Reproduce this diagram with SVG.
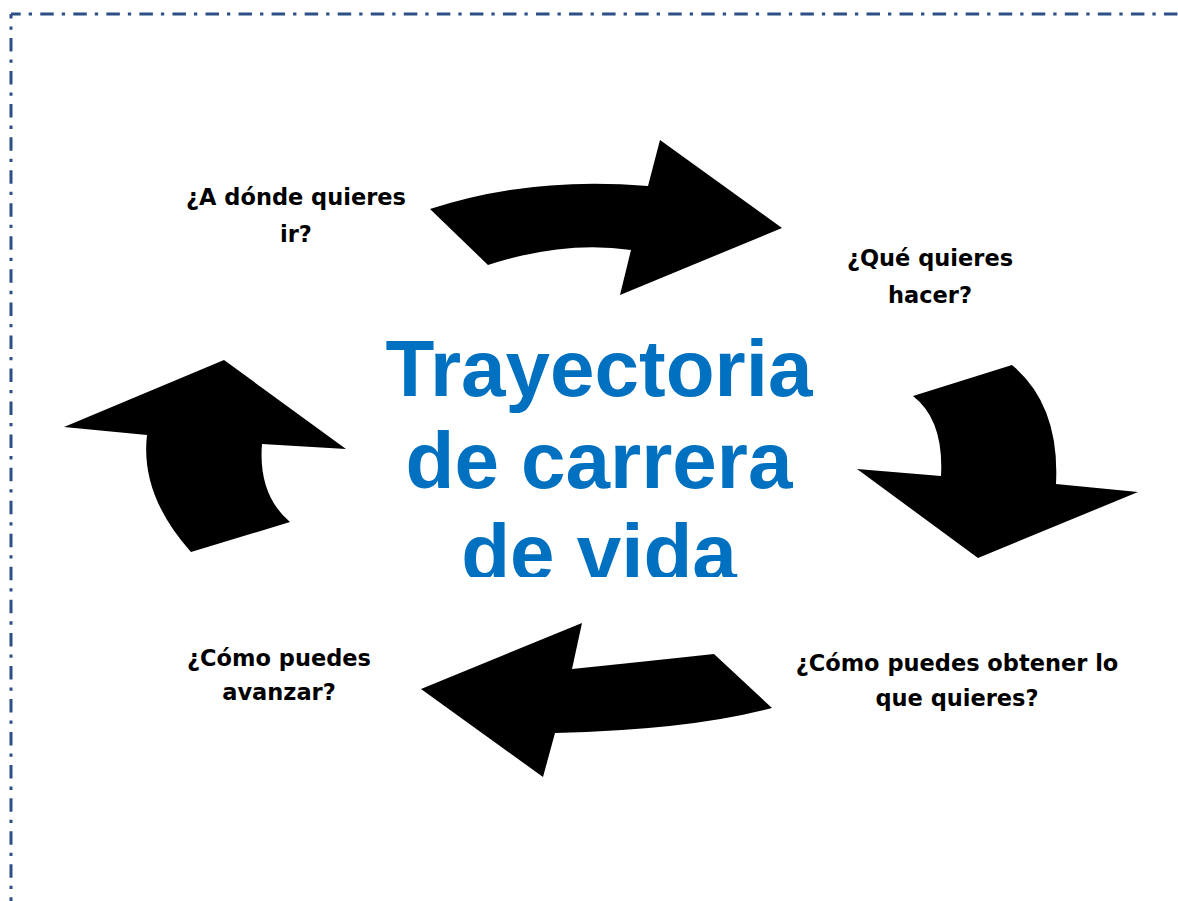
<svg xmlns="http://www.w3.org/2000/svg" width="1178" height="901" viewBox="0 0 1178 901">
  <defs>
    <style>
      .border { stroke: #2c4f86; stroke-width: 3; fill: none; stroke-dasharray: 13.5 8 3.3 8.25; }
      .arrow { fill: #000000; stroke: none; }
      .label { font-family: "Comic Sans MS", "DejaVu Sans", sans-serif; font-weight: bold; font-size: 22.5px; fill: #000000; text-anchor: middle; }
      .title { font-family: "Liberation Sans", Arial, sans-serif; font-weight: bold; font-size: 80px; fill: #0070c0; text-anchor: middle; }
    </style>
    <clipPath id="titleClip">
      <rect x="0" y="300" width="1178" height="277"/>
    </clipPath>
  </defs>
  <rect width="1178" height="901" fill="#ffffff"/>
  <g id="border">
    <line class="border" x1="11" y1="14" x2="1178" y2="14" stroke-dashoffset="3.8"/>
    <line class="border" x1="11" y1="14" x2="11" y2="901" stroke-dashoffset="9.05"/>
  </g>
  <g id="connectors">
    <path id="arrow-top" class="arrow" d="M430,209 Q530,176 648,186 L660,140 L782,228 L620,295 L631,250 Q565,240 488,265 Z"/>
    <path id="arrow-right" class="arrow" d="M913,396 L1012,365 Q1060,405 1056,484 L1138,492 L978,558 L857,469 L941,476 Q944,420 913,396 Z"/>
    <path id="arrow-bottom" class="arrow" d="M421,689 L582,623 L572,669 Q640,662 714,654 L772,708 Q690,730 555,733 L543,777 Z"/>
    <path id="arrow-left" class="arrow" d="M64,427 L224,360 L346,449 L262,444 Q258,495 290,522 L191,552 Q140,495 147,435 Z"/>
  </g>
  <g id="center-title" clip-path="url(#titleClip)">
    <text class="title" x="599" y="396">Trayectoria</text>
    <text class="title" x="599" y="488">de carrera</text>
    <text class="title" x="599" y="580">de vida</text>
  </g>
  <g id="node-donde">
    <text class="label" x="296" y="205">¿A dónde quieres</text>
    <text class="label" x="296" y="242">ir?</text>
  </g>
  <g id="node-que">
    <text class="label" x="930" y="266">¿Qué quieres</text>
    <text class="label" x="930" y="303">hacer?</text>
  </g>
  <g id="node-obtener">
    <text class="label" x="957" y="671">¿Cómo puedes obtener lo</text>
    <text class="label" x="957" y="706">que quieres?</text>
  </g>
  <g id="node-avanzar">
    <text class="label" x="279" y="666">¿Cómo puedes</text>
    <text class="label" x="279" y="700">avanzar?</text>
  </g>
</svg>
